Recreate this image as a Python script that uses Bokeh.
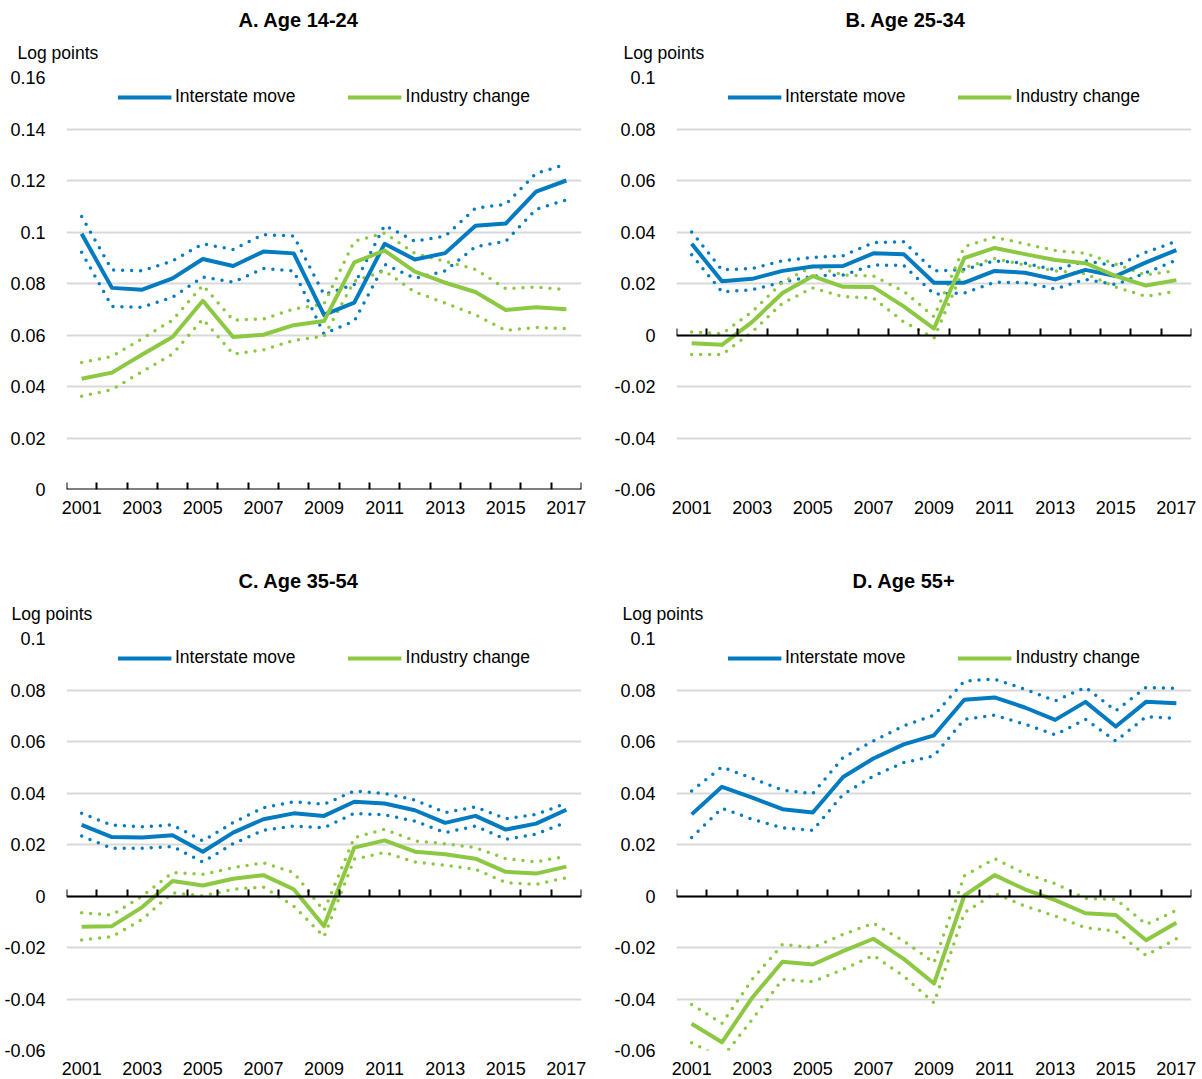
from bokeh.plotting import figure
from bokeh.models import (FixedTicker, LinearAxis, Range1d, CustomJSTickFormatter,
                          Legend, LegendItem, Title)
from bokeh.layouts import column, row
from bokeh.embed import file_html
from bokeh.resources import INLINE

FONT = "Liberation Sans"
BLUE = "#037BC1"
GREEN = "#8CC841"

years = list(range(2001, 2018))
year_labels = [2001, 2003, 2005, 2007, 2009, 2011, 2013, 2015, 2017]
yticks_a = [0, 0.02, 0.04, 0.06, 0.08, 0.10, 0.12, 0.14, 0.16]
yticks_other = [-0.06, -0.04, -0.02, 0, 0.02, 0.04, 0.06, 0.08, 0.10]
series_names = ["Interstate move", "Industry change"]

# Panel A. Age 14-24
a_move    = [0.0993, 0.0783, 0.0776, 0.0820, 0.0895, 0.0868, 0.0924, 0.0917, 0.0678, 0.0726, 0.0954, 0.0893, 0.0918, 0.1024, 0.1033, 0.1157, 0.1200]
a_move_hi = [0.1060, 0.0853, 0.0849, 0.0888, 0.0954, 0.0932, 0.0990, 0.0984, 0.0757, 0.0796, 0.1026, 0.0964, 0.0984, 0.1092, 0.1108, 0.1228, 0.1263]
a_move_lo = [0.0921, 0.0711, 0.0708, 0.0747, 0.0825, 0.0805, 0.0858, 0.0849, 0.0605, 0.0654, 0.0875, 0.0820, 0.0849, 0.0943, 0.0964, 0.1088, 0.1125]
a_ind     = [0.0430, 0.0454, 0.0524, 0.0592, 0.0733, 0.0592, 0.0601, 0.0638, 0.0654, 0.0882, 0.0928, 0.0846, 0.0803, 0.0767, 0.0697, 0.0708, 0.0700]
a_ind_hi  = [0.0493, 0.0517, 0.0586, 0.0658, 0.0793, 0.0658, 0.0662, 0.0701, 0.0721, 0.0964, 0.0996, 0.0917, 0.0886, 0.0855, 0.0780, 0.0786, 0.0776]
a_ind_lo  = [0.0362, 0.0388, 0.0458, 0.0526, 0.0662, 0.0526, 0.0542, 0.0579, 0.0595, 0.0809, 0.0849, 0.0767, 0.0724, 0.0678, 0.0618, 0.0629, 0.0625]

# Panel B. Age 25-34
b_move    = [0.0354, 0.0209, 0.0218, 0.0249, 0.0266, 0.0268, 0.0317, 0.0314, 0.0203, 0.0203, 0.0249, 0.0242, 0.0216, 0.0253, 0.0229, 0.0282, 0.0330]
b_move_hi = [0.0400, 0.0253, 0.0258, 0.0288, 0.0301, 0.0308, 0.0359, 0.0362, 0.0249, 0.0254, 0.0288, 0.0279, 0.0253, 0.0288, 0.0268, 0.0321, 0.0364]
b_move_lo = [0.0312, 0.0167, 0.0176, 0.0205, 0.0229, 0.0233, 0.0272, 0.0270, 0.0159, 0.0163, 0.0205, 0.0203, 0.0179, 0.0216, 0.0196, 0.0242, 0.0291]
b_ind     = [-0.0032, -0.0038, 0.0051, 0.0163, 0.0229, 0.0187, 0.0186, 0.0111, 0.0025, 0.0299, 0.0338, 0.0314, 0.0291, 0.0279, 0.0229, 0.0192, 0.0213]
b_ind_hi  = [0.0012, 0.0005, 0.0091, 0.0205, 0.0268, 0.0233, 0.0229, 0.0170, 0.0071, 0.0343, 0.0380, 0.0354, 0.0328, 0.0317, 0.0275, 0.0233, 0.0251]
b_ind_lo  = [-0.0076, -0.0076, 0.0012, 0.0124, 0.0183, 0.0149, 0.0143, 0.0051, -0.0012, 0.0262, 0.0297, 0.0272, 0.0249, 0.0238, 0.0186, 0.0150, 0.0170]

# Panel C. Age 35-54
c_move    = [0.0276, 0.0229, 0.0227, 0.0236, 0.0172, 0.0246, 0.0298, 0.0321, 0.0311, 0.0366, 0.0359, 0.0333, 0.0284, 0.0311, 0.0258, 0.0281, 0.0335]
c_move_hi = [0.0321, 0.0275, 0.0269, 0.0276, 0.0214, 0.0285, 0.0343, 0.0366, 0.0356, 0.0408, 0.0398, 0.0373, 0.0324, 0.0346, 0.0300, 0.0317, 0.0360]
c_move_lo = [0.0233, 0.0185, 0.0185, 0.0192, 0.0132, 0.0203, 0.0255, 0.0272, 0.0265, 0.0321, 0.0315, 0.0291, 0.0246, 0.0272, 0.0220, 0.0240, 0.0287]
c_ind     = [-0.0119, -0.0117, -0.0043, 0.0058, 0.0041, 0.0067, 0.0081, 0.0026, -0.0117, 0.0188, 0.0216, 0.0172, 0.0162, 0.0145, 0.0094, 0.0087, 0.0114]
c_ind_hi  = [-0.0065, -0.0074, 0.0000, 0.0091, 0.0084, 0.0110, 0.0129, 0.0091, -0.0058, 0.0227, 0.0259, 0.0214, 0.0203, 0.0188, 0.0145, 0.0132, 0.0155]
c_ind_lo  = [-0.0171, -0.0158, -0.0091, 0.0013, 0.0000, 0.0026, 0.0035, -0.0039, -0.0158, 0.0143, 0.0169, 0.0132, 0.0119, 0.0104, 0.0052, 0.0045, 0.0071]

# Panel D. Age 55+
d_move    = [0.0317, 0.0424, 0.0382, 0.0337, 0.0324, 0.0462, 0.0534, 0.0589, 0.0624, 0.0762, 0.0771, 0.0732, 0.0684, 0.0754, 0.0658, 0.0754, 0.0749]
d_move_hi = [0.0408, 0.0501, 0.0457, 0.0411, 0.0398, 0.0538, 0.0602, 0.0661, 0.0702, 0.0835, 0.0842, 0.0803, 0.0758, 0.0810, 0.0719, 0.0810, 0.0806]
d_move_lo = [0.0227, 0.0341, 0.0298, 0.0265, 0.0255, 0.0395, 0.0466, 0.0518, 0.0544, 0.0686, 0.0702, 0.0667, 0.0626, 0.0686, 0.0602, 0.0696, 0.0690]
d_ind     = [-0.0496, -0.0568, -0.0395, -0.0255, -0.0266, -0.0214, -0.0166, -0.0244, -0.0340, 0.0002, 0.0081, 0.0026, -0.0016, -0.0067, -0.0074, -0.0172, -0.0104]
d_ind_hi  = [-0.0421, -0.0495, -0.0324, -0.0188, -0.0201, -0.0149, -0.0106, -0.0175, -0.0259, 0.0078, 0.0145, 0.0087, 0.0048, -0.0010, -0.0013, -0.0110, -0.0056]
d_ind_lo  = [-0.0570, -0.0630, -0.0479, -0.0324, -0.0333, -0.0285, -0.0231, -0.0311, -0.0415, -0.0065, 0.0010, -0.0039, -0.0078, -0.0123, -0.0136, -0.0231, -0.0166]


def make_panel(title, move, move_hi, move_lo, ind, ind_hi, ind_lo, yticks,
               width, height, mb_left, mb_right, mb_bottom, title_off, lp_off):
    p = figure(width=width, height=height, output_backend="svg", toolbar_location=None,
               x_range=Range1d(years[0] - 0.5, years[-1] + 0.5),
               y_range=Range1d(yticks[0], yticks[-1]),
               min_border_left=mb_left, min_border_right=mb_right,
               min_border_top=77, min_border_bottom=mb_bottom, title=None)
    p.outline_line_color = None
    p.background_fill_color = "white"
    p.border_fill_color = "white"
    p.xgrid.visible = False
    p.ygrid.ticker = FixedTicker(ticks=yticks)
    p.ygrid.grid_line_color = "#D9D9D9"
    p.ygrid.grid_line_width = 2

    ya = p.yaxis[0]
    ya.ticker = FixedTicker(ticks=yticks)
    ya.formatter = CustomJSTickFormatter(code="return String(parseFloat(tick.toFixed(2)));")
    ya.axis_line_color = None
    ya.major_tick_line_color = None
    ya.minor_tick_line_color = None
    ya.major_label_standoff = 15
    ya.major_label_text_font = FONT
    ya.major_label_text_font_size = "18px"
    ya.major_label_text_color = "black"

    xa = p.xaxis[0]
    xa.ticker = FixedTicker(ticks=year_labels)
    xa.axis_line_color = None
    xa.major_tick_line_color = None
    xa.minor_tick_line_color = None
    xa.major_label_standoff = 5
    xa.major_label_text_font = FONT
    xa.major_label_text_font_size = "18px"
    xa.major_label_text_color = "black"

    # zero axis with category boundary ticks
    bounds = [y - 0.5 for y in years] + [years[-1] + 0.5]
    zax = LinearAxis(ticker=FixedTicker(ticks=bounds), fixed_location=0,
                     formatter=CustomJSTickFormatter(code="return '';"),
                     major_tick_out=7, major_tick_in=0, minor_tick_out=0, minor_tick_in=0,
                     axis_line_color="black", axis_line_width=2,
                     major_tick_line_color="black", major_tick_line_width=2,
                     major_label_standoff=0, major_label_text_font_size="0px")
    p.add_layout(zax, "above")

    # spacer between the axis and the unit label
    p.add_layout(Title(text=" ", text_font_size="1px", standoff=5), "above")
    p.add_layout(Title(text="Log points", align="left", offset=lp_off, standoff=14,
                       vertical_align="bottom", text_font=FONT, text_font_size="17.5px",
                       text_font_style="normal", text_color="black"), "above")
    p.add_layout(Title(text=title, align="left", offset=title_off, standoff=6,
                       vertical_align="bottom", text_font=FONT, text_font_size="20px",
                       text_font_style="bold", text_color="black"), "above")

    dot = dict(line_width=3.5, line_dash="0 9", line_cap="round")
    p.line(years, move_hi, line_color=BLUE, **dot)
    p.line(years, move_lo, line_color=BLUE, **dot)
    p.line(years, ind_hi, line_color=GREEN, **dot)
    p.line(years, ind_lo, line_color=GREEN, **dot)
    r1 = p.line(years, move, line_color=BLUE, line_width=4, line_join="round")
    r2 = p.line(years, ind, line_color=GREEN, line_width=4, line_join="round")

    legend = Legend(items=[LegendItem(label=series_names[0], renderers=[r1]),
                           LegendItem(label=series_names[1], renderers=[r2])],
                    orientation="horizontal", location="top_center",
                    glyph_width=54, glyph_height=20, label_height=20, label_standoff=4,
                    spacing=52, padding=9, margin=9,
                    border_line_color=None, background_fill_alpha=0,
                    label_text_font=FONT, label_text_font_size="17.5px",
                    label_text_color="black")
    p.add_layout(legend)
    return p


pa = make_panel("A. Age 14-24", a_move, a_move_hi, a_move_lo, a_ind, a_ind_hi, a_ind_lo,
                yticks_a, 610, 561, 66, 29, 72, 172, -49)
pb = make_panel("B. Age 25-34", b_move, b_move_hi, b_move_lo, b_ind, b_ind_hi, b_ind_lo,
                yticks_other, 592, 561, 66, 11, 72, 169, -53)
pc = make_panel("C. Age 35-54", c_move, c_move_hi, c_move_lo, c_ind, c_ind_hi, c_ind_lo,
                yticks_other, 610, 518, 66, 29, 29, 172, -55)
pd = make_panel("D. Age 55+", d_move, d_move_hi, d_move_lo, d_ind, d_ind_hi, d_ind_lo,
                yticks_other, 592, 518, 66, 11, 29, 176, -54)

layout = column(row(pa, pb), row(pc, pd))
open("out.html", "w").write(file_html(layout, INLINE))
